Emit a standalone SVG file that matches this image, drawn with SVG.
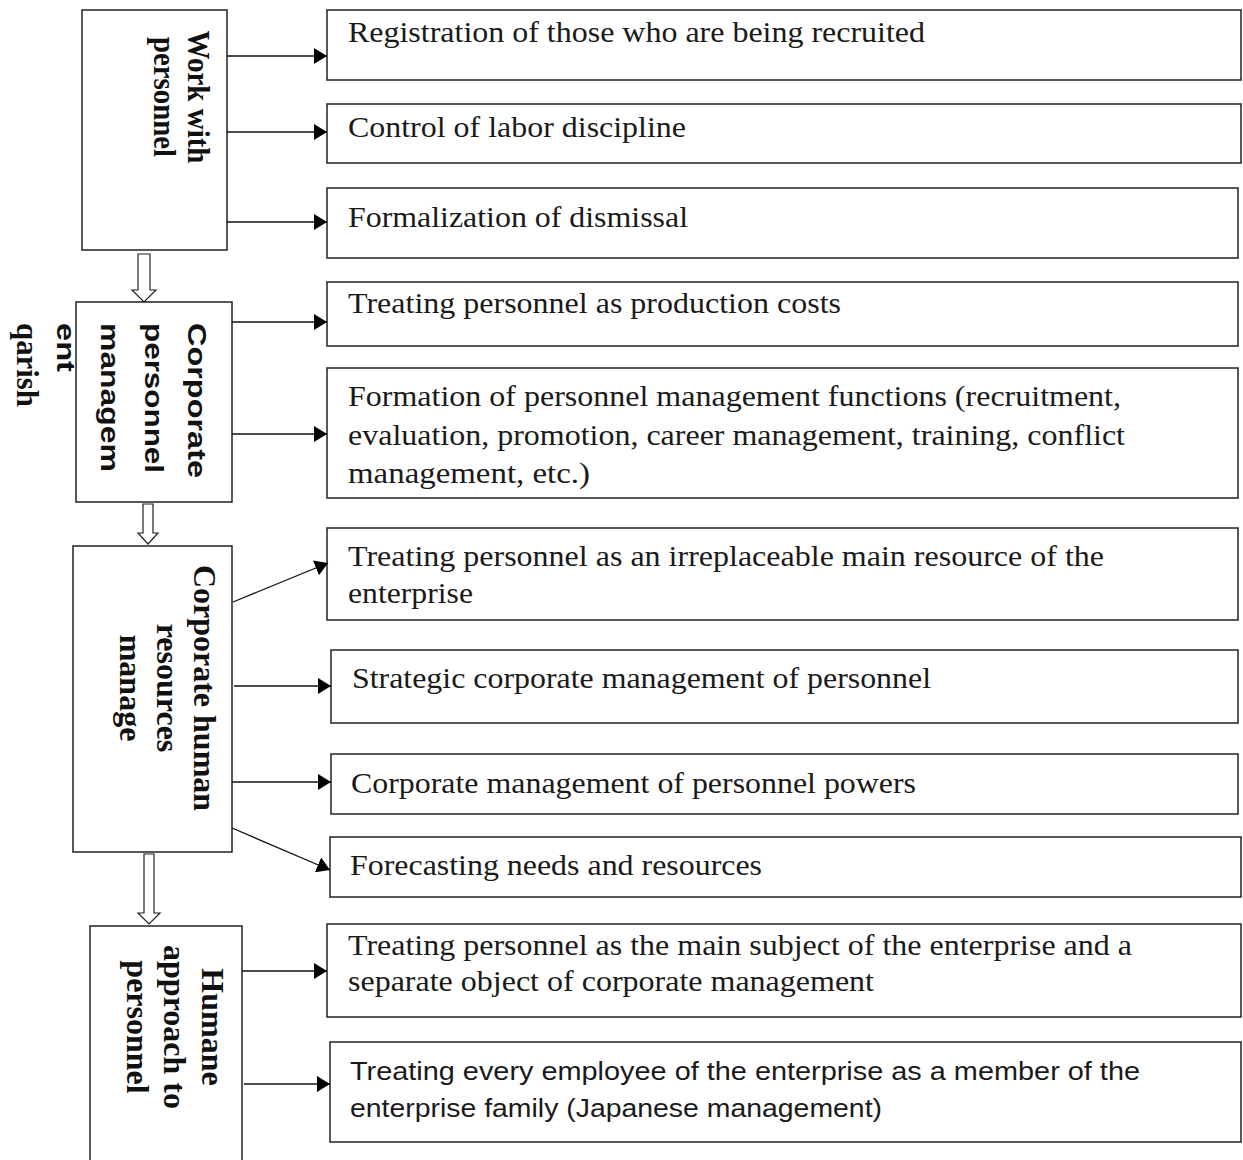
<svg xmlns="http://www.w3.org/2000/svg" width="1243" height="1160" viewBox="0 0 1243 1160">
<style>
.box{fill:#fff;stroke:#222;stroke-width:1.5}
.t{font-family:"Liberation Serif","Times New Roman",serif;font-size:29px;fill:#1a1a1a}
.tb{font-family:"Liberation Serif","Times New Roman",serif;font-size:32px;font-weight:bold;fill:#111}
.sb{font-family:"Liberation Sans",Arial,sans-serif;font-size:26px;font-weight:bold;fill:#111}
.s{font-family:"Liberation Sans",Arial,sans-serif;font-size:25px;fill:#1a1a1a}
.c{stroke:#111;stroke-width:1.3;fill:none}
.h{fill:#fff;stroke:#222;stroke-width:1.2}
</style>
<defs>
<marker id="ah" markerUnits="userSpaceOnUse" markerWidth="14" markerHeight="16" refX="13" refY="8" orient="auto">
<path d="M0,0 L13,8 L0,16 Z" fill="#000"/>
</marker>
</defs>
<rect width="1243" height="1160" fill="#fff"/>

<g id="left1">
<rect class="box" x="82" y="10" width="145" height="240"/>
<g transform="translate(188,97) rotate(90)">
<text class="tb" text-anchor="middle" x="0" y="0" font-size="32" textLength="133" lengthAdjust="spacingAndGlyphs">Work with</text>
<text class="tb" text-anchor="middle" x="0" y="34" font-size="32" textLength="120" lengthAdjust="spacingAndGlyphs">personnel</text>
</g>
</g>

<g id="left2">
<rect class="box" x="76" y="302" width="156" height="200"/>
<g transform="translate(188,323) rotate(90)">
<text class="sb" x="0" y="0" textLength="155" lengthAdjust="spacingAndGlyphs">Corporate</text>
<text class="sb" x="0" y="43" textLength="150" lengthAdjust="spacingAndGlyphs">personnel</text>
<text class="sb" x="0" y="87" textLength="149" lengthAdjust="spacingAndGlyphs">managem</text>
<text class="sb" x="0" y="131" textLength="49" lengthAdjust="spacingAndGlyphs">ent</text>
</g>
</g>

<g id="qarish-label">
<text class="tb" font-size="30" transform="translate(17,323) rotate(90)" textLength="84" lengthAdjust="spacingAndGlyphs">qarish</text>
</g>

<g id="left3">
<rect class="box" x="73" y="546" width="159" height="306"/>
<g transform="translate(194,688) rotate(90)">
<text class="tb" text-anchor="middle" x="0" y="0">Corporate human</text>
<text class="tb" text-anchor="middle" x="0" y="37">resources</text>
<text class="tb" text-anchor="middle" x="0" y="74">manage</text>
</g>
</g>

<g id="left4">
<rect class="box" x="90" y="926" width="152" height="250"/>
<g transform="translate(202,1027) rotate(90)">
<text class="tb" text-anchor="middle" x="0" y="0">Humane</text>
<text class="tb" text-anchor="middle" x="0" y="38">approach to</text>
<text class="tb" text-anchor="middle" x="0" y="75">personnel</text>
</g>
</g>

<g id="r1">
<rect class="box" x="327" y="10" width="914" height="70"/>
<text class="t" x="348" y="42" textLength="577" lengthAdjust="spacingAndGlyphs">Registration of those who are being recruited</text>
</g>
<g id="r2">
<rect class="box" x="327" y="104" width="914" height="59"/>
<text class="t" x="348" y="137" textLength="338" lengthAdjust="spacingAndGlyphs">Control of labor discipline</text>
</g>
<g id="r3">
<rect class="box" x="327" y="188" width="911" height="70"/>
<text class="t" x="348" y="227" textLength="340" lengthAdjust="spacingAndGlyphs">Formalization of dismissal</text>
</g>
<g id="r4">
<rect class="box" x="327" y="282" width="911" height="64"/>
<text class="t" x="348" y="313" textLength="493" lengthAdjust="spacingAndGlyphs">Treating personnel as production costs</text>
</g>
<g id="r5">
<rect class="box" x="327" y="368" width="911" height="130"/>
<text class="t" x="348" y="406" textLength="773" lengthAdjust="spacingAndGlyphs">Formation of personnel management functions (recruitment,</text>
<text class="t" x="348" y="445" textLength="777" lengthAdjust="spacingAndGlyphs">evaluation, promotion, career management, training, conflict</text>
<text class="t" x="348" y="483" textLength="242" lengthAdjust="spacingAndGlyphs">management, etc.)</text>
</g>
<g id="r6">
<rect class="box" x="327" y="528" width="911" height="92"/>
<text class="t" x="348" y="566" textLength="756" lengthAdjust="spacingAndGlyphs">Treating personnel as an irreplaceable main resource of the</text>
<text class="t" x="348" y="603" textLength="125" lengthAdjust="spacingAndGlyphs">enterprise</text>
</g>
<g id="r7">
<rect class="box" x="331" y="650" width="907" height="73"/>
<text class="t" x="352" y="688" textLength="579" lengthAdjust="spacingAndGlyphs">Strategic corporate management of personnel</text>
</g>
<g id="r8">
<rect class="box" x="331" y="754" width="907" height="60"/>
<text class="t" x="351" y="793" textLength="565" lengthAdjust="spacingAndGlyphs">Corporate management of personnel powers</text>
</g>
<g id="r9">
<rect class="box" x="330" y="837" width="911" height="60"/>
<text class="t" x="350" y="875" textLength="412" lengthAdjust="spacingAndGlyphs">Forecasting needs and resources</text>
</g>
<g id="r10">
<rect class="box" x="327" y="924" width="914" height="93"/>
<text class="t" x="348" y="955" textLength="784" lengthAdjust="spacingAndGlyphs">Treating personnel as the main subject of the enterprise and a</text>
<text class="t" x="348" y="991" textLength="526" lengthAdjust="spacingAndGlyphs">separate object of corporate management</text>
</g>
<g id="r11">
<rect class="box" x="330" y="1042" width="911" height="100"/>
<text class="s" x="350" y="1080" textLength="790" lengthAdjust="spacingAndGlyphs">Treating every employee of the enterprise as a member of the</text>
<text class="s" x="350" y="1117" textLength="532" lengthAdjust="spacingAndGlyphs">enterprise family (Japanese management)</text>
</g>

<g id="connectors">
<line class="c" x1="227" y1="56" x2="327" y2="56" marker-end="url(#ah)"/>
<line class="c" x1="227" y1="132" x2="327" y2="132" marker-end="url(#ah)"/>
<line class="c" x1="227" y1="222" x2="327" y2="222" marker-end="url(#ah)"/>
<line class="c" x1="232" y1="322" x2="327" y2="322" marker-end="url(#ah)"/>
<line class="c" x1="232" y1="434" x2="327" y2="434" marker-end="url(#ah)"/>
<line class="c" x1="233" y1="602" x2="328" y2="563" marker-end="url(#ah)"/>
<line class="c" x1="234" y1="686" x2="331" y2="686" marker-end="url(#ah)"/>
<line class="c" x1="232" y1="782" x2="331" y2="782" marker-end="url(#ah)"/>
<line class="c" x1="232" y1="828" x2="330" y2="870" marker-end="url(#ah)"/>
<line class="c" x1="242" y1="971" x2="327" y2="971" marker-end="url(#ah)"/>
<line class="c" x1="244" y1="1084" x2="330" y2="1084" marker-end="url(#ah)"/>
<polygon class="h" points="138,254 150,254 150,290 156,290 144,302 132,290 138,290"/>
<polygon class="h" points="143,504 153,504 153,533 158,533 148,544 138,533 143,533"/>
<polygon class="h" points="144,854 154,854 154,913 160,913 149,924 138,913 144,913"/>
</g>
</svg>
